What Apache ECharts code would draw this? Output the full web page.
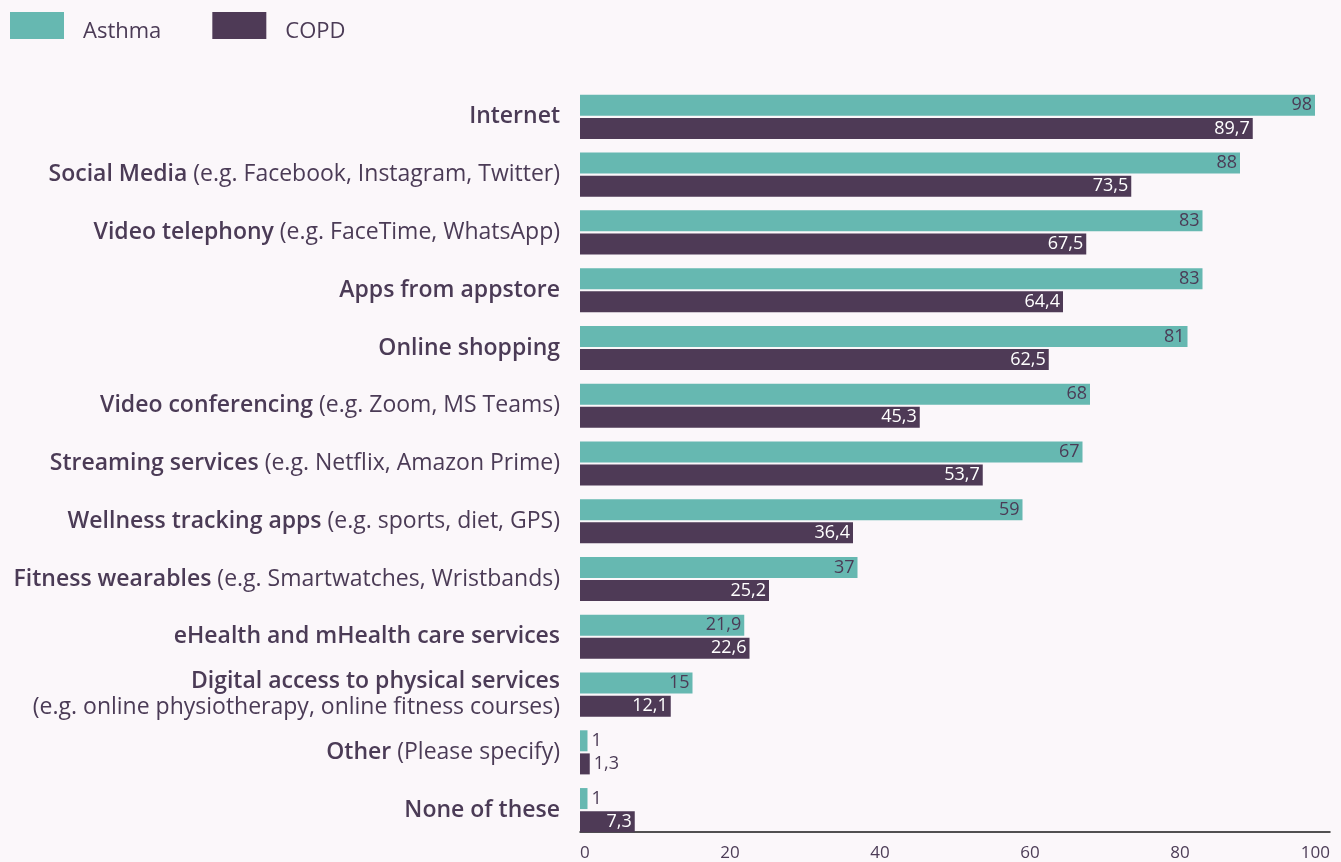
<!DOCTYPE html>
<html>
<head>
<meta charset="utf-8">
<script src="https://cdn.jsdelivr.net/npm/echarts@6/dist/echarts.min.js"></script>
<style>
  html, body { margin: 0; padding: 0; background: #fbf7fa; }
  #chart { width: 1341px; height: 862px; }
</style>
</head>
<body>
<div id="chart"></div>
<script>
// Usage of digital services, share of respondents (%)
const categoryTitles = [
  'Internet',
  'Social Media',
  'Video telephony',
  'Apps from appstore',
  'Online shopping',
  'Video conferencing',
  'Streaming services',
  'Wellness tracking apps',
  'Fitness wearables',
  'eHealth and mHealth care services',
  'Digital access to physical services',
  'Other',
  'None of these'
];
const categoryNotes = [
  '',
  '(e.g. Facebook, Instagram, Twitter)',
  '(e.g. FaceTime, WhatsApp)',
  '',
  '',
  '(e.g. Zoom, MS Teams)',
  '(e.g. Netflix, Amazon Prime)',
  '(e.g. sports, diet, GPS)',
  '(e.g. Smartwatches, Wristbands)',
  '',
  '\n(e.g. online physiotherapy, online fitness courses)',
  '(Please specify)',
  ''
];
const asthma = [98, 88, 83, 83, 81, 68, 67, 59, 37, 21.9, 15, 1, 1];
const copd = [89.7, 73.5, 67.5, 64.4, 62.5, 45.3, 53.7, 36.4, 25.2, 22.6, 12.1, 1.3, 7.3];
const xTicks = [0, 20, 40, 60, 80, 100];

const TEXT = '#4b3b56';
const TEAL = '#66b8b1';
const PLUM = '#4e3a56';
const FONT = '"Open Sans", "Noto Sans", sans-serif';

const fmt = v => String(v).replace('.', ',');

// Short bars carry their value outside, the rest inside the bar end
function withLabels(values, insideColor) {
  return values.map(v => ({
    value: v,
    label: v < 3
      ? { position: 'right', distance: 4, color: TEXT }
      : { position: 'insideRight', distance: 3, color: insideColor }
  }));
}

const chart = echarts.init(document.getElementById('chart'));
chart.setOption({
  backgroundColor: '#fbf7fa',
  textStyle: { fontFamily: FONT },
  legend: {
    left: 5,
    top: 7,
    itemWidth: 54,
    itemHeight: 27,
    itemGap: 51,
    icon: 'rect',
    formatter: name => '{t|' + name + '}',
    textStyle: {
      color: TEXT,
      fontFamily: FONT,
      rich: {
        t: { fontSize: 22, color: TEXT, fontFamily: FONT, padding: [12, 0, 0, 14] }
      }
    },
    data: ['Asthma', 'COPD']
  },
  grid: { left: 580, right: 11, top: 88, bottom: 23, containLabel: false },
  xAxis: {
    type: 'value',
    min: xTicks[0],
    max: xTicks[xTicks.length - 1],
    interval: 20,
    offset: -7,
    axisLine: { show: true, lineStyle: { color: '#1a1a1a', width: 1.5 } },
    axisTick: { show: false },
    splitLine: { show: false },
    axisLabel: {
      color: TEXT,
      fontSize: 17,
      fontFamily: FONT,
      margin: 13,
      alignMinLabel: 'left',
      alignMaxLabel: 'right'
    }
  },
  yAxis: {
    type: 'category',
    inverse: true,
    data: categoryTitles,
    axisLine: { show: false },
    axisTick: { show: false },
    axisLabel: {
      margin: 20,
      align: 'right',
      formatter: (val, idx) => {
        const note = categoryNotes[idx];
        if (!note) return '{b|' + val + '}';
        if (note.startsWith('\n')) return '{b|' + val + '}\n{r|' + note.slice(1) + '}';
        return '{b|' + val + '}{r| ' + note + '}';
      },
      rich: {
        b: { fontSize: 23, fontWeight: 600, color: TEXT, fontFamily: FONT, lineHeight: 26 },
        r: { fontSize: 23, fontWeight: 'normal', color: TEXT, fontFamily: FONT, lineHeight: 26 }
      }
    }
  },
  series: [
    {
      name: 'Asthma',
      type: 'bar',
      barWidth: 21,
      barGap: '10%',
      itemStyle: { color: TEAL },
      label: { show: true, fontSize: 18, fontFamily: FONT, formatter: p => fmt(p.value) },
      data: withLabels(asthma, TEXT)
    },
    {
      name: 'COPD',
      type: 'bar',
      barWidth: 21,
      itemStyle: { color: PLUM },
      label: { show: true, fontSize: 18, fontFamily: FONT, formatter: p => fmt(p.value) },
      data: withLabels(copd, '#ffffff')
    }
  ]
});
</script>
</body>
</html>
